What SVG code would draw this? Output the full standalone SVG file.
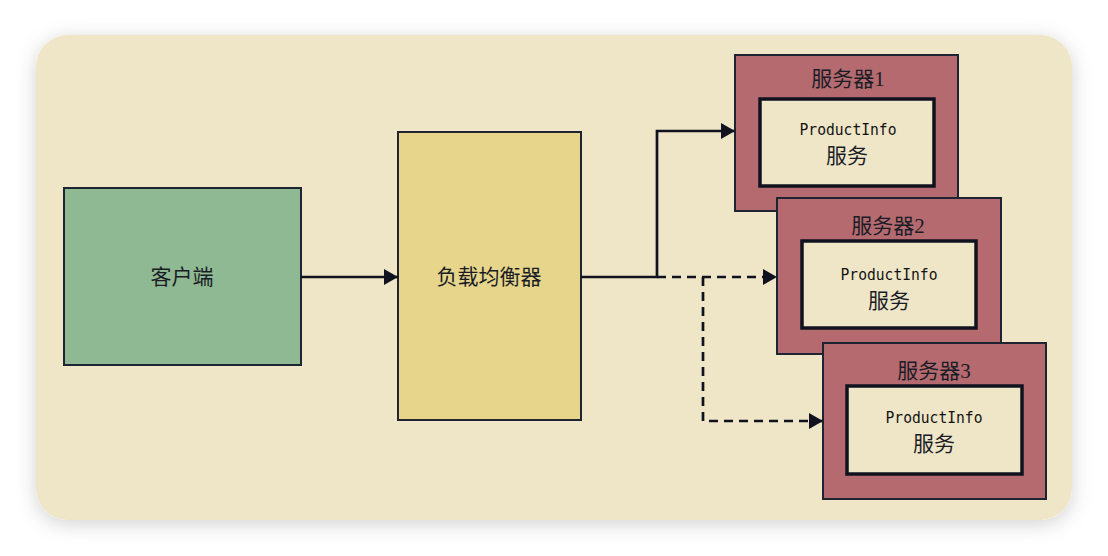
<svg xmlns="http://www.w3.org/2000/svg" width="1108" height="556" viewBox="0 0 1108 556">
<style>
.box{stroke:#1f2433;stroke-width:2}
.srv{fill:#B46A6F;stroke:#1f2433;stroke-width:2}
.inner{fill:#EFE6C8;stroke:#10131f;stroke-width:3.5}
.cn{font-family:"Liberation Serif","Noto Sans CJK SC",serif;font-size:21px;fill:#1a1c26;text-anchor:middle}
.mono{font-family:"DejaVu Sans Mono","Liberation Mono",monospace;font-size:16px;fill:#111;text-anchor:middle}
.ln{fill:none;stroke:#10131f;stroke-width:2.7}
.dash{stroke-dasharray:9 6}
</style>
<defs>
<filter id="sh" x="-10%" y="-10%" width="120%" height="130%">
<feDropShadow dx="0" dy="4" stdDeviation="10" flood-color="#000" flood-opacity="0.18"/>
</filter>
<marker id="ah" markerWidth="14" markerHeight="16" refX="14" refY="8" orient="auto" markerUnits="userSpaceOnUse">
<path d="M0,0 L14,8 L0,16 Z" fill="#10131f"/>
</marker>
</defs>
<rect width="1108" height="556" fill="#ffffff"/>
<rect x="36" y="35" width="1036" height="485" rx="32" fill="#EFE6C8" filter="url(#sh)"/>

<g id="client">
<rect class="box" x="64" y="188" width="237" height="177" fill="#8FB992"/>
<text class="cn" x="182" y="284">客户端</text>
</g>

<g id="lb">
<rect class="box" x="398" y="132" width="183" height="288" fill="#E6D58A"/>
<text class="cn" x="489" y="284">负载均衡器</text>
</g>

<g id="server1">
<rect class="srv" x="735" y="55" width="223" height="156"/>
<text class="cn" x="848" y="86">服务器1</text>
<rect class="inner" x="760" y="99" width="174" height="87"/>
<text class="mono" x="848" y="135" textLength="97" lengthAdjust="spacingAndGlyphs">ProductInfo</text>
<text class="cn" x="847" y="163">服务</text>
</g>

<g id="server2">
<rect class="srv" x="777" y="198" width="224" height="156"/>
<text class="cn" x="888" y="233">服务器2</text>
<rect class="inner" x="802" y="241" width="174" height="87"/>
<text class="mono" x="889" y="280" textLength="97" lengthAdjust="spacingAndGlyphs">ProductInfo</text>
<text class="cn" x="889" y="308">服务</text>
</g>

<g id="server3">
<rect class="srv" x="823" y="343" width="223" height="156"/>
<text class="cn" x="934" y="378">服务器3</text>
<rect class="inner" x="847" y="386" width="175" height="88"/>
<text class="mono" x="934" y="423" textLength="97" lengthAdjust="spacingAndGlyphs">ProductInfo</text>
<text class="cn" x="934" y="451">服务</text>
</g>

<g id="connectors">
<path class="ln" d="M301,277 L398,277" marker-end="url(#ah)"/>
<path class="ln" d="M581,277 L657,277 L657,131 L735,131" marker-end="url(#ah)"/>
<path class="ln dash" d="M657,277 L777,277" marker-end="url(#ah)"/>
<path class="ln dash" d="M703,277 L703,421 L823,421" marker-end="url(#ah)"/>
</g>
</svg>
